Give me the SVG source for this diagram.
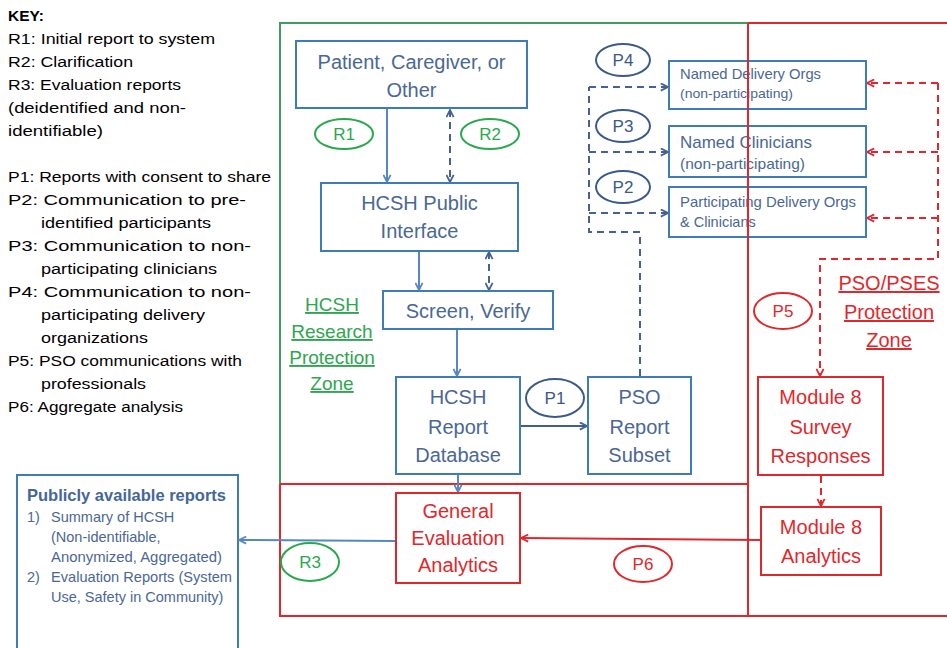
<svg xmlns="http://www.w3.org/2000/svg" width="947" height="648" viewBox="0 0 947 648">
<style>
text{font-family:"Liberation Sans",Arial,sans-serif}
.key{font-size:15.5px;fill:#000}
.bx{fill:#fff;stroke:#3d7bb9;stroke-width:2}
.rbx{fill:#fff;stroke:#e0282c;stroke-width:2}
.bt{fill:#4a6894;text-anchor:middle;font-size:20px}
.rt{fill:#e0282c;text-anchor:middle;font-size:20px}
.st{fill:#4a6894}
.eb{fill:#fff;stroke:#3a5a8a;stroke-width:2}
.eg{fill:#fff;stroke:#2aa84e;stroke-width:2}
.er{fill:#fff;stroke:#e0282c;stroke-width:2}
.lb{font-size:17px;text-anchor:middle}
.solid{fill:none;stroke:#5686c4;stroke-width:2}
.dash{fill:none;stroke:#46638f;stroke-width:2;stroke-dasharray:7,5}
.rdash{fill:none;stroke:#e0282c;stroke-width:2;stroke-dasharray:7,5}
.rsolid{fill:none;stroke:#e0282c;stroke-width:2}
.zoneg{fill:#2fa650;font-size:19px;text-anchor:middle;text-decoration:underline}
.zoner{fill:#e0282c;font-size:20px;text-anchor:middle;text-decoration:underline}
</style>
<defs>
<marker id="ab" viewBox="0 0 10 10" refX="9" refY="5" markerWidth="9" markerHeight="9" markerUnits="userSpaceOnUse" orient="auto-start-reverse"><path d="M1,1 L9,5 L1,9" fill="none" stroke="#5686c4" stroke-width="2"/></marker>
<marker id="ad" viewBox="0 0 10 10" refX="9" refY="5" markerWidth="9" markerHeight="9" markerUnits="userSpaceOnUse" orient="auto-start-reverse"><path d="M1,1 L9,5 L1,9" fill="none" stroke="#46638f" stroke-width="2"/></marker>
<marker id="ar" viewBox="0 0 10 10" refX="9" refY="5" markerWidth="9" markerHeight="9" markerUnits="userSpaceOnUse" orient="auto-start-reverse"><path d="M1,1 L9,5 L1,9" fill="none" stroke="#e0282c" stroke-width="2"/></marker>
</defs>
<rect width="947" height="648" fill="#fff"/>

<g id="key">
<text class="key" x="8" y="21" font-weight="bold">KEY:</text>
<text class="key" x="8" y="44" textLength="207" lengthAdjust="spacingAndGlyphs">R1: Initial report to system</text>
<text class="key" x="8" y="67" textLength="125" lengthAdjust="spacingAndGlyphs">R2: Clarification</text>
<text class="key" x="8" y="90" textLength="173" lengthAdjust="spacingAndGlyphs">R3: Evaluation reports</text>
<text class="key" x="8" y="113" textLength="178" lengthAdjust="spacingAndGlyphs">(deidentified and non-</text>
<text class="key" x="8" y="136" textLength="95" lengthAdjust="spacingAndGlyphs">identifiable)</text>
<text class="key" x="8" y="182" textLength="263" lengthAdjust="spacingAndGlyphs">P1: Reports with consent to share</text>
<text class="key" x="8" y="205" textLength="238" lengthAdjust="spacingAndGlyphs">P2: Communication to pre-</text>
<text class="key" x="41" y="228" textLength="170" lengthAdjust="spacingAndGlyphs">identified participants</text>
<text class="key" x="8" y="251" textLength="243" lengthAdjust="spacingAndGlyphs">P3: Communication to non-</text>
<text class="key" x="41" y="274" textLength="176" lengthAdjust="spacingAndGlyphs">participating clinicians</text>
<text class="key" x="8" y="297" textLength="243" lengthAdjust="spacingAndGlyphs">P4: Communication to non-</text>
<text class="key" x="41" y="320" textLength="164" lengthAdjust="spacingAndGlyphs">participating delivery</text>
<text class="key" x="41" y="343" textLength="107" lengthAdjust="spacingAndGlyphs">organizations</text>
<text class="key" x="8" y="366" textLength="234" lengthAdjust="spacingAndGlyphs">P5: PSO communications with</text>
<text class="key" x="41" y="389" textLength="105" lengthAdjust="spacingAndGlyphs">professionals</text>
<text class="key" x="8" y="412" textLength="175" lengthAdjust="spacingAndGlyphs">P6: Aggregate analysis</text>
</g>

<g id="zones">
<path d="M280,484 V23 H748" fill="none" stroke="#3f9e5f" stroke-width="2"/>
<path d="M748,23 H947 M748,23 V616 M280,484 H748 M280,484 V616 H947" fill="none" stroke="#e0282c" stroke-width="2"/>
<text class="zoneg" x="332" y="311">HCSH</text>
<text class="zoneg" x="332" y="338">Research</text>
<text class="zoneg" x="332" y="364">Protection</text>
<text class="zoneg" x="332" y="390">Zone</text>
<text class="zoner" x="889" y="290">PSO/PSES</text>
<text class="zoner" x="889" y="319">Protection</text>
<text class="zoner" x="889" y="347">Zone</text>
</g>

<g id="public-reports">
<rect class="bx" x="17" y="475" width="221" height="190"/>
<text x="27" y="501" font-size="16.5" font-weight="bold" fill="#44679a" textLength="199" lengthAdjust="spacingAndGlyphs">Publicly available reports</text>
<g class="st" font-size="14.5">
<text x="27" y="522">1)</text>
<text x="51" y="522">Summary of HCSH</text>
<text x="51" y="542">(Non-identifiable,</text>
<text x="51" y="562" textLength="171" lengthAdjust="spacingAndGlyphs">Anonymized, Aggregated)</text>
<text x="27" y="582">2)</text>
<text x="51" y="582" textLength="181" lengthAdjust="spacingAndGlyphs">Evaluation Reports (System</text>
<text x="51" y="602">Use, Safety in Community)</text>
</g>
</g>

<g id="connectors">
<line class="solid" x1="387" y1="109" x2="387" y2="182" marker-end="url(#ab)"/>
<line class="dash" x1="450" y1="110" x2="450" y2="182" stroke="#5686c4" marker-start="url(#ad)" marker-end="url(#ad)"/>
<line class="solid" x1="419" y1="252" x2="419" y2="290" marker-end="url(#ab)"/>
<line class="dash" x1="489" y1="252" x2="489" y2="290" marker-start="url(#ad)" marker-end="url(#ad)"/>
<line class="solid" x1="457" y1="330" x2="457" y2="376" marker-end="url(#ab)"/>
<line class="solid" x1="458" y1="475" x2="458" y2="492" marker-end="url(#ab)"/>
<line x1="521" y1="426" x2="587" y2="426" fill="none" stroke="#3f5f8f" stroke-width="2" marker-end="url(#ad)"/>
<path class="dash" d="M640,376 V232 H589 V87"/>
<line class="dash" x1="589" y1="87" x2="668" y2="87" marker-end="url(#ad)"/>
<line class="dash" x1="589" y1="152" x2="668" y2="152" marker-end="url(#ad)"/>
<line class="dash" x1="589" y1="213" x2="668" y2="213" marker-end="url(#ad)"/>
<path class="rdash" d="M938,83 V259 H820 V376" marker-end="url(#ar)"/>
<line class="rdash" x1="938" y1="83" x2="867" y2="83" marker-end="url(#ar)"/>
<line class="rdash" x1="938" y1="152" x2="867" y2="152" marker-end="url(#ar)"/>
<line class="rdash" x1="938" y1="218" x2="867" y2="218" marker-end="url(#ar)"/>
<line class="rdash" x1="821" y1="476" x2="821" y2="506" marker-end="url(#ar)"/>
<line class="rsolid" x1="760" y1="540" x2="521" y2="538" marker-end="url(#ar)"/>
<line class="solid" x1="395" y1="541" x2="239" y2="540" marker-end="url(#ab)"/>
</g>

<g id="patient">
<rect class="bx" x="296" y="41" width="231" height="67"/>
<text class="bt" x="411.5" y="69" font-size="21">Patient, Caregiver, or</text>
<text class="bt" x="411.5" y="97" font-size="21">Other</text>
</g>
<g id="public-interface">
<rect class="bx" x="321" y="183" width="197" height="68"/>
<text class="bt" x="419.5" y="210">HCSH Public</text>
<text class="bt" x="419.5" y="238">Interface</text>
</g>
<g id="screen-verify">
<rect class="bx" x="383" y="291" width="170" height="38"/>
<text class="bt" x="468" y="318" font-size="21">Screen, Verify</text>
</g>
<g id="report-database">
<rect class="bx" x="396" y="377" width="124" height="97"/>
<text class="bt" x="458" y="404" font-size="20.5">HCSH</text>
<text class="bt" x="458" y="434" font-size="20.5">Report</text>
<text class="bt" x="458" y="462" font-size="20.5">Database</text>
</g>
<g id="pso-subset">
<rect class="bx" x="588" y="377" width="103" height="97"/>
<text class="bt" x="639.5" y="404" font-size="20.5">PSO</text>
<text class="bt" x="639.5" y="434" font-size="20.5">Report</text>
<text class="bt" x="639.5" y="462" font-size="20.5">Subset</text>
</g>
<g id="general-evaluation">
<rect class="rbx" x="396" y="493" width="124" height="90"/>
<text class="rt" x="458" y="518" font-size="19.5">General</text>
<text class="rt" x="458" y="545" font-size="19.5">Evaluation</text>
<text class="rt" x="458" y="572" font-size="19.5">Analytics</text>
</g>
<g id="module8-survey">
<rect class="rbx" x="758" y="377" width="125" height="98"/>
<text class="rt" x="820.5" y="404">Module 8</text>
<text class="rt" x="820.5" y="434">Survey</text>
<text class="rt" x="820.5" y="463">Responses</text>
</g>
<g id="module8-analytics">
<rect class="rbx" x="761" y="507" width="120" height="68"/>
<text class="rt" x="821" y="534">Module 8</text>
<text class="rt" x="821" y="563">Analytics</text>
</g>
<g id="named-delivery">
<rect class="bx" x="669" y="61" width="197" height="48"/>
<text class="st" x="680" y="79" font-size="14.5" textLength="141" lengthAdjust="spacingAndGlyphs">Named Delivery Orgs</text>
<text class="st" x="680" y="98" font-size="13" textLength="113" lengthAdjust="spacingAndGlyphs">(non-participating)</text>
</g>
<g id="named-clinicians">
<rect class="bx" x="669" y="126" width="197" height="51"/>
<text class="st" x="680" y="148" font-size="17" textLength="132" lengthAdjust="spacingAndGlyphs">Named Clinicians</text>
<text class="st" x="680" y="169" font-size="15" textLength="125" lengthAdjust="spacingAndGlyphs">(non-participating)</text>
</g>
<g id="participating">
<rect class="bx" x="669" y="187" width="197" height="50"/>
<text class="st" x="680" y="207" font-size="14.5" textLength="176" lengthAdjust="spacingAndGlyphs">Participating Delivery Orgs</text>
<text class="st" x="680" y="227" font-size="14.5">&amp; Clinicians</text>
</g>
<g id="zone-lines-over">
<line x1="748" y1="60" x2="748" y2="238" stroke="#e0282c" stroke-width="2"/>
</g>

<g id="labels">
<ellipse class="eg" cx="344" cy="134" rx="29" ry="15"/><text class="lb" x="344" y="140" fill="#2aa84e">R1</text>
<ellipse class="eg" cx="490" cy="134" rx="29" ry="15"/><text class="lb" x="490" y="140" fill="#2aa84e">R2</text>
<ellipse class="eg" cx="310" cy="562" rx="29" ry="19"/><text class="lb" x="310" y="568" fill="#2aa84e">R3</text>
<ellipse class="eb" cx="555" cy="398" rx="29" ry="19"/><text class="lb" x="555" y="404" fill="#3a5a8a">P1</text>
<ellipse class="eb" cx="623" cy="187" rx="27" ry="16"/><text class="lb" x="623" y="193" fill="#3a5a8a">P2</text>
<ellipse class="eb" cx="623" cy="126" rx="27" ry="16"/><text class="lb" x="623" y="132" fill="#3a5a8a">P3</text>
<ellipse class="eb" cx="623" cy="60" rx="27" ry="16"/><text class="lb" x="623" y="66" fill="#3a5a8a">P4</text>
<ellipse class="er" cx="783" cy="311" rx="29" ry="18"/><text class="lb" x="783" y="317" fill="#e0282c">P5</text>
<ellipse class="er" cx="643" cy="564" rx="29" ry="18"/><text class="lb" x="643" y="570" fill="#e0282c">P6</text>
</g>
</svg>
